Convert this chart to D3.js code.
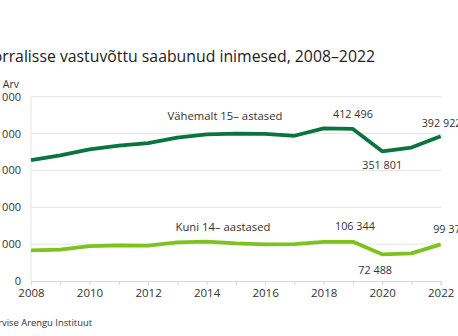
<!DOCTYPE html>
<html><head><meta charset="utf-8">
<script src="https://cdn.jsdelivr.net/npm/d3@7"></script>
<style>
html,body{margin:0;padding:0;background:#fff;overflow:hidden;}
svg{display:block;font-family:"Open Sans",sans-serif;}
</style></head><body>
<svg id="c" width="458" height="336"></svg>
<script>
const years = [2008,2009,2010,2011,2012,2013,2014,2015,2016,2017,2018,2019,2020,2021,2022];
const adults = [328000,341000,357000,367000,374000,389000,398000,400000,399000,394000,414000,412496,351801,362000,392922];
const children = [83000,85000,94500,96500,96000,104800,106600,102000,99400,100000,106000,106344,72488,75000,99372];
const yTicks = [0,100000,200000,300000,400000,500000];
const xTickLabels = [2008,2010,2012,2014,2016,2018,2020,2022];
const seriesNames = ["Vähemalt 15– astased","Kuni 14– aastased"];
const title = "Erakorralisse vastuvõttu saabunud inimesed, 2008–2022";
const source = "Allikas: Tervise Arengu Instituut";
const yTitle = "Arv";

const svg = d3.select("#c");
const x = d3.scaleLinear().domain([2008,2022]).range([31,440.7]);
const y = d3.scaleLinear().domain([0,500000]).range([281,96.7]);
const fmt = v => d3.format(",")(v).replace(/,/g," ");

// title
svg.append("text").attr("x",375).attr("y",62).attr("text-anchor","end")
  .attr("font-size",15.8).attr("fill","#222").text(title);

// grid
svg.append("g").selectAll("line").data(yTicks.slice(1)).join("line")
  .attr("x1",31).attr("x2",441.5).attr("y1",d=>y(d)).attr("y2",d=>y(d))
  .attr("stroke","#e4e4e4").attr("stroke-width",1);
// y axis line
svg.append("line").attr("x1",31).attr("x2",31).attr("y1",y(500000)).attr("y2",y(0))
  .attr("stroke","#e4e4e4");

// y labels
const ya = svg.append("g").attr("transform","translate(31,0)")
  .call(d3.axisLeft(y).tickValues(yTicks).tickFormat(fmt).tickSize(0).tickPadding(10));
ya.select(".domain").remove();
ya.selectAll("text").attr("font-family","Open Sans, sans-serif").attr("font-size",11).attr("fill","#333");
svg.append("text").attr("x",19).attr("y",87.5).attr("text-anchor","end")
  .attr("font-size",10.5).attr("fill","#333").text(yTitle);

// x axis
const xa = svg.append("g").attr("transform","translate(0,281)")
  .call(d3.axisBottom(x).tickValues(years).tickSize(4).tickPadding(4)
  .tickFormat(d => xTickLabels.includes(d) ? d : ""));
xa.select(".domain").attr("stroke","#d6d6d6");
xa.selectAll(".tick line").attr("stroke","#d6d6d6");
xa.selectAll("text").attr("font-family","Open Sans, sans-serif").attr("font-size",11.5).attr("fill","#333");

// lines
const line = d3.line().x((d,i)=>x(years[i])).y(d=>y(d));
svg.append("path").datum(adults).attr("d",line).attr("fill","none")
  .attr("stroke","#0a7340").attr("stroke-width",3.8).attr("stroke-linejoin","round");
svg.append("path").datum(children).attr("d",line).attr("fill","none")
  .attr("stroke","#7dc21e").attr("stroke-width",3.8).attr("stroke-linejoin","round");

// series labels
svg.append("text").attr("x",225).attr("y",120).attr("text-anchor","middle")
  .attr("font-size",11.3).attr("fill","#333").text(seriesNames[0]);
svg.append("text").attr("x",223).attr("y",231).attr("text-anchor","middle")
  .attr("font-size",11.3).attr("fill","#333").text(seriesNames[1]);

// data labels
const labs = [
  {i:11, v:adults[11], dx:0, dy:-11, anchor:"middle"},
  {i:12, v:adults[12], dx:0, dy:18, anchor:"middle"},
  {i:14, v:adults[14], dx:-19, dy:-9, anchor:"start"},
  {i:11, v:children[11], dx:2, dy:-12, anchor:"middle"},
  {i:12, v:children[12], dx:-7, dy:20, anchor:"middle"},
  {i:14, v:children[14], dx:-7.5, dy:-11, anchor:"start"}
];
svg.append("g").selectAll("text").data(labs).join("text")
  .attr("x",d=>x(years[d.i])+d.dx).attr("y",d=>y(d.v)+d.dy)
  .attr("text-anchor",d=>d.anchor).attr("font-size",10.8).attr("fill","#333")
  .text(d=>fmt(d.v));

// source
svg.append("text").attr("x",92).attr("y",326).attr("text-anchor","end")
  .attr("font-size",9.4).attr("fill","#333").text(source);
</script></body></html>
